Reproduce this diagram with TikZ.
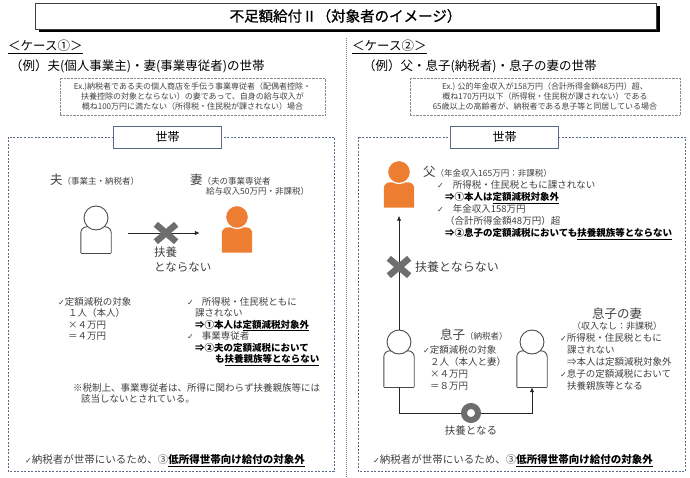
\documentclass[tikz,border=0pt]{standalone}
\usepackage{fontspec}
\setmainfont{Noto Sans CJK JP}
\newfontfamily\titlefont{Noto Sans CJK JP}[FakeBold=0.8]
\newfontfamily\checkfont{DejaVu Sans}
\usepackage{tikz}
\usetikzlibrary{arrows.meta,shadows}
\definecolor{framegray}{HTML}{5A6A86}
\definecolor{figorange}{HTML}{ED7D31}
\definecolor{crossgray}{HTML}{6E6E6E}
\definecolor{textgray}{HTML}{404040}
\newcommand{\chk}{{\checkfont\fontsize{8}{8}\selectfont ✓}}
\newcommand{\boldtxt}[1]{\textcolor{black}{\bfseries #1}}

\begin{document}
\begin{tikzpicture}[x=1pt, y=-1pt,
  txt/.style={inner sep=0pt, anchor=north west, align=left, text=textgray, font=\fontsize{9.5}{11.5}\selectfont},
  head/.style={circle, inner sep=0pt},
  body/.style={rectangle, inner sep=0pt, minimum width=30pt},
  outline/.style={draw=black!70, fill=white, line width=0.9pt},
  area/.style={draw=framegray, dash pattern=on 2pt off 1.5pt, line width=0.7pt},
  tagbox/.style={draw=framegray, fill=white, line width=0.8pt, minimum width=108pt, minimum height=22pt, font=\fontsize{12}{12}\selectfont},
  exbox/.style={draw=black!45, densely dotted, align=center, text=textgray, inner sep=0pt, font=\fontsize{8}{9.7}\selectfont},
  crossmark/.style={inner sep=0pt, minimum width=20pt, minimum height=17pt},
  crossline/.style={draw=crossgray, line width=6.5pt},
  ring/.style={circle, inner sep=0pt, minimum size=14pt, draw=crossgray, line width=6pt, fill=white},
  arr/.style={-{Latex[length=5pt,width=4.5pt]}, line width=0.9pt, black!85},
  heading/.style={inner sep=0pt, anchor=west, font=\fontsize{12.5}{14}\selectfont}]
  \useasboundingbox (0,0) rectangle (690,478);

  % title
  \node[draw=black!75, fill=white, line width=0.8pt, minimum width=621pt, minimum height=26pt,
    drop shadow={shadow xshift=3.5pt, shadow yshift=-3.5pt, fill=black, opacity=1},
    font=\titlefont\fontsize{14.5}{15}\selectfont] (title) at (345.5,16) {不足額給付Ⅱ（対象者のイメージ）};
  \draw[black!50, dash pattern=on 1pt off 1pt] (346,38) -- (346,478); % divider

  % case 1
  \node[heading] (case1) at (8,47) {\underline{＜ケース①＞}};
  \node[heading] (example1) at (10,66) {（例）夫(個人事業主)・妻(事業専従者)の世帯};
  \node[exbox, minimum width=265pt, minimum height=37pt] (ex1) at (192.5,96.5)
    {Ex.)納税者である夫の個人商店を手伝う事業専従者（配偶者控除・\\扶養控除の対象とならない）の妻であって、自身の給与収入が\\概ね100万円に満たない（所得税・住民税が課されない）場合};
  \draw[area] (8,137) rectangle (334,471);
  \node[tagbox] (household1) at (167.5,137) {世帯};

  % case 2
  \node[heading] (case2) at (352,47) {\underline{＜ケース②＞}};
  \node[heading] (example2) at (363,66) {（例）父・息子(納税者)・息子の妻の世帯};
  \node[exbox, minimum width=270pt, minimum height=37pt] (ex2) at (545,96.5)
    {Ex.) 公的年金収入が158万円（合計所得金額48万円）超、\\概ね170万円以下（所得税・住民税が課されない）である\\65歳以上の高齢者が、納税者である息子等と同居している場合};
  \draw[area] (358,137) rectangle (685,471);
  \node[tagbox] (household2) at (504.5,137) {世帯};

  % outline figures
  \foreach \who/\px/\py/\ph in {husband/96/240/26, son/399/369/36, sonwife/532/369/36} {
    \node[body, minimum height=\ph] (\who) at (\px,\py) {};
    \filldraw[outline, rounded corners=6pt] (\who.south west) -- (\who.north west) -- (\who.north east) -- (\who.south east);
    \draw[outline] (\who.south west) -- (\who.south east);
    \node[head, outline, minimum size=24pt] (\who-head) at (\px,{\py-\ph/2-9}) {};
  }
  % orange figures
  \foreach \who/\px/\py in {wife/237/240, father/399/195} {
    \node[body, minimum height=25pt] (\who) at (\px,\py) {};
    \fill[figorange, rounded corners=6pt] (\who.south west) -- (\who.north west) -- (\who.north east) -- (\who.south east);
    \node[head, fill=figorange, draw=white, line width=1.2pt, minimum size=23pt] (\who-head) at (\px,{\py-23}) {};
  }

  % case 1 figures
  \node[txt, anchor=base west] (husbandlabel) at (50,185)
    {{\fontsize{12.5}{14}\selectfont 夫}{\fontsize{8.5}{10}\selectfont （事業主・納税者）}};
  \node[txt, font=\fontsize{8.5}{10}\selectfont] (wifelabel) at (190,174)
    {{\fontsize{12.5}{14}\selectfont 妻}（夫の事業専従者\\\hspace*{16pt}給与収入50万円・非課税）};
  \draw[arr, shorten <=17pt, shorten >=22pt] ([yshift=7pt]husband.east) -- ([yshift=7pt]wife.west);
  \node[crossmark] (nocare1) at (166,233) {};
  \draw[crossline] (nocare1.north west) -- (nocare1.south east) (nocare1.north east) -- (nocare1.south west);
  \node[txt, font=\fontsize{11.5}{15}\selectfont] (nocarelabel1) at (154,247) {扶養\\とならない};

  \node[txt] (credit1) at (58,297) {\chk 定額減税の対象\\\hspace*{10pt}１人（本人）\\\hspace*{10pt}×４万円\\\hspace*{10pt}＝４万円};
  \node[txt] (wifenote) at (187,297)
    {\chk\hspace{8pt}所得税・住民税ともに\\
     \hspace*{8pt}課されない\\
     \hspace*{8pt}\boldtxt{⇒①本人は\underline{定額減税対象外}}\\
     \chk\hspace{8pt}事業専従者\\
     \hspace*{8pt}\boldtxt{⇒②夫の定額減税において}\\
     \hspace*{28pt}\boldtxt{も\underline{扶養親族等とならない}}};
  \node[txt] (taxnote) at (73,383) {※税制上、事業専従者は、所得に関わらず扶養親族等には\\\hspace*{8pt}該当しないとされている。};
  \node[txt, anchor=west, font=\fontsize{10.5}{12}\selectfont] (result1) at (25,461)
    {\chk 納税者が世帯にいるため、③\boldtxt{\underline{低所得世帯向け給付の対象外}}};

  % case 2 figures
  \node[txt, font=\fontsize{9.5}{12}\selectfont] (fatherlabel) at (423,166)
    {{\fontsize{12.5}{14}\selectfont 父}{\fontsize{8.5}{10}\selectfont （年金収入165万円：非課税）}\\
     \hspace*{14pt}\chk\hspace{9pt}所得税・住民税ともに課されない\\
     \hspace*{22pt}\boldtxt{⇒①本人は\underline{定額減税対象外}}\\
     \hspace*{14pt}\chk\hspace{9pt}年金収入158万円\\
     \hspace*{22pt}（合計所得金額48万円）超\\
     \hspace*{22pt}\boldtxt{⇒②息子の定額減税においても\underline{扶養親族等とならない}}};
  \draw[arr, shorten >=8pt] (son-head.north) -- (father.south);
  \node[crossmark] (nocare2) at (399,267) {};
  \draw[crossline] (nocare2.north west) -- (nocare2.south east) (nocare2.north east) -- (nocare2.south west);
  \node[txt, anchor=west, font=\fontsize{12}{14}\selectfont] (nocarelabel2) at (415,267) {扶養とならない};

  \node[txt, font=\fontsize{9.5}{12}\selectfont] (sonlabel) at (423,329)
    {\hspace*{17pt}{\fontsize{12.5}{14}\selectfont 息子}{\fontsize{8.5}{10}\selectfont （納税者）}\\[2pt]
     \chk 定額減税の対象\\\hspace*{7pt}２人（本人と妻）\\\hspace*{7pt}×４万円\\\hspace*{7pt}＝８万円};
  \draw[arr] (son.south) -- ++(0,26) -| (sonwife.south);
  \node[ring] (care) at (471,413) {};
  \node[txt, anchor=center, font=\fontsize{10.5}{12}\selectfont] (carelabel) at (471,431) {扶養となる};

  \node[txt, anchor=center, align=center, font=\fontsize{9}{11}\selectfont] (sonwifelabel) at (617,319)
    {{\fontsize{12.5}{14}\selectfont 息子の妻}\\（収入なし：非課税）};
  \node[txt, font=\fontsize{9.5}{12}\selectfont] (sonwifenote) at (560,333)
    {\chk 所得税・住民税ともに\\\hspace*{7pt}課されない\\\hspace*{7pt}⇒本人は定額減税対象外\\
     \chk 息子の定額減税において\\\hspace*{7pt}扶養親族等となる};
  \node[txt, anchor=west, font=\fontsize{10.5}{12}\selectfont] (result2) at (373,461)
    {\chk 納税者が世帯にいるため、③\boldtxt{\underline{低所得世帯向け給付の対象外}}};
\end{tikzpicture}
\end{document}
